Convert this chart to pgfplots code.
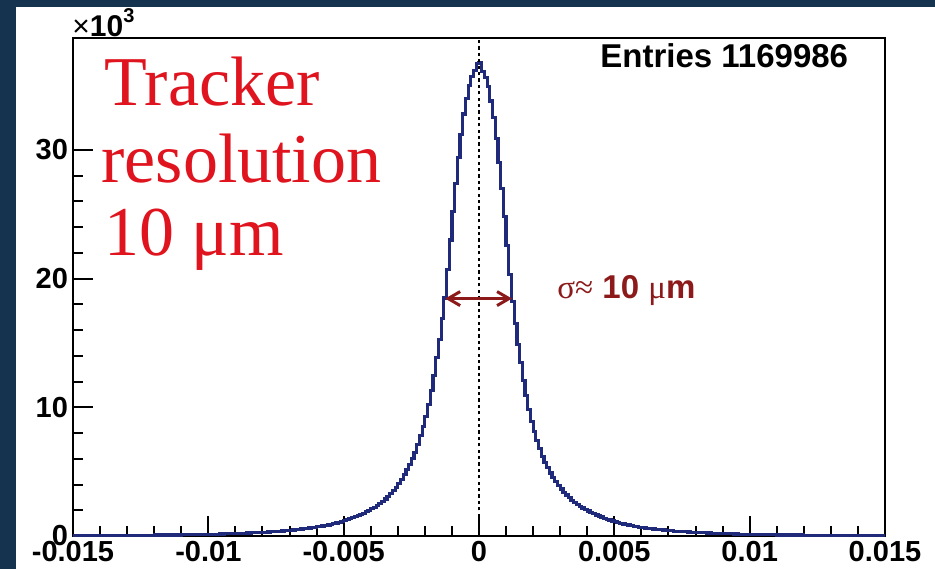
\documentclass[border=0pt]{standalone}
\usepackage{fontspec}
\setmainfont{Liberation Sans}
\newfontfamily\serifface{Liberation Serif}
\usepackage{pgfplots}
\pgfplotsset{compat=1.18}
\usetikzlibrary{arrows.meta}
\definecolor{PageNavy}{HTML}{15324F}
\definecolor{HistNavy}{HTML}{1F2A7A}
\definecolor{NoteRed}{HTML}{E0141E}
\definecolor{SigmaRed}{HTML}{8C1A1A}
\newcommand{\tickfont}{\bfseries\fontsize{14.5}{14.5}\selectfont}

\begin{document}
\begin{tikzpicture}
\fill[PageNavy] (0,0) rectangle (467.5pt,284.5pt);
\fill[white] (8pt,0) rectangle (467.5pt,281pt);
\begin{axis}[
 at={(36.5pt,16.5pt)},anchor=south west,
 scale only axis,width=406pt,height=249pt,
 xmin=-0.015,xmax=0.015,ymin=0,ymax=38.7,
 xtick={-0.015,-0.01,-0.005,0,0.005,0.01,0.015},
 xticklabels={-0.015,-0.01,-0.005,0,0.005,0.01,0.015},
 ytick={0,10,20,30},yticklabels={0,10,20,30},
 minor x tick num=4,minor y tick num=4,
 tick align=inside,xtick pos=bottom,ytick pos=left,
 major tick length=10pt,minor tick length=5pt,
 tick style={black,line width=1pt},
 axis line style={black,line width=1pt},
 ticklabel style={font=\tickfont},
 xticklabel style={yshift=1pt},
 yticklabel style={xshift=1pt},
 scaled ticks=false,clip=false,
]
\addplot[const plot,HistNavy,line width=1.6pt] coordinates {
(-0.0150,0.038)(-0.0145,0.042)(-0.0140,0.047)(-0.0135,0.052)(-0.0130,0.058)
(-0.0125,0.065)(-0.0120,0.075)(-0.0115,0.085)(-0.0110,0.100)(-0.0105,0.115)
(-0.0100,0.130)(-0.0099,0.135)(-0.0098,0.140)(-0.0097,0.145)(-0.0096,0.150)
(-0.0095,0.160)(-0.0094,0.165)(-0.0093,0.170)(-0.0092,0.180)(-0.0091,0.185)
(-0.0090,0.19)(-0.0089,0.20)(-0.0088,0.21)(-0.0087,0.22)(-0.0086,0.23)
(-0.0085,0.24)(-0.0084,0.25)(-0.0083,0.26)(-0.0082,0.27)(-0.0081,0.28)
(-0.0080,0.29)(-0.0079,0.30)(-0.0078,0.31)(-0.0077,0.33)(-0.0076,0.34)
(-0.0075,0.36)(-0.0074,0.37)(-0.0073,0.39)(-0.0072,0.41)(-0.0071,0.43)
(-0.0070,0.45)(-0.0069,0.47)(-0.0068,0.49)(-0.0067,0.51)(-0.0066,0.54)
(-0.0065,0.56)(-0.0064,0.59)(-0.0063,0.62)(-0.0062,0.65)(-0.0061,0.68)
(-0.0060,0.71)(-0.0059,0.74)(-0.0058,0.78)(-0.0057,0.82)(-0.0056,0.86)
(-0.0055,0.91)(-0.0054,0.96)(-0.0053,1.01)(-0.0052,1.07)(-0.0051,1.13)
(-0.0050,1.19)(-0.0049,1.26)(-0.0048,1.33)(-0.0047,1.41)(-0.0046,1.49)
(-0.0045,1.58)(-0.0044,1.67)(-0.0043,1.77)(-0.0042,1.88)(-0.0041,1.99)
(-0.0040,2.11)(-0.0039,2.24)(-0.0038,2.38)(-0.0037,2.53)(-0.0036,2.70)
(-0.0035,2.88)(-0.0034,3.08)(-0.0033,3.30)(-0.0032,3.55)(-0.0031,3.80)
(-0.0030,4.10)(-0.0029,4.40)(-0.0028,4.75)(-0.0027,5.15)(-0.0026,5.55)
(-0.0025,6.00)(-0.0024,6.50)(-0.0023,7.10)(-0.0022,7.80)(-0.0021,8.50)
(-0.0020,9.30)(-0.0019,10.2)(-0.0018,11.3)(-0.0017,12.5)(-0.0016,13.9)
(-0.0015,15.3)(-0.0014,16.9)(-0.0013,18.5)(-0.0012,20.7)(-0.0011,23.0)
(-0.0010,25.2)(-0.0009,27.4)(-0.0008,29.4)(-0.0007,31.2)(-0.0006,32.8)
(-0.0005,34.0)(-0.0004,35.0)(-0.0003,35.7)(-0.0002,36.2)(-0.0001,36.7)
(0.0000,36.8)(0.0001,36.1)(0.0002,35.6)(0.0003,34.9)(0.0004,33.8)
(0.0005,32.5)(0.0006,30.9)(0.0007,29.0)(0.0008,27.0)(0.0009,24.8)
(0.0010,22.6)(0.0011,20.3)(0.0012,18.2)(0.0013,16.5)(0.0014,14.9)
(0.0015,13.5)(0.0016,12.1)(0.0017,10.9)(0.0018,9.8)(0.0019,8.9)
(0.0020,8.1)(0.0021,7.4)(0.0022,6.8)(0.0023,6.2)(0.0024,5.7)
(0.0025,5.3)(0.0026,4.9)(0.0027,4.55)(0.0028,4.22)(0.0029,3.92)
(0.0030,3.65)(0.0031,3.40)(0.0032,3.18)(0.0033,2.97)(0.0034,2.78)
(0.0035,2.61)(0.0036,2.45)(0.0037,2.31)(0.0038,2.18)(0.0039,2.06)
(0.0040,1.95)(0.0041,1.84)(0.0042,1.74)(0.0043,1.64)(0.0044,1.55)
(0.0045,1.47)(0.0046,1.39)(0.0047,1.31)(0.0048,1.24)(0.0049,1.17)
(0.0050,1.11)(0.0051,1.05)(0.0052,0.99)(0.0053,0.94)(0.0054,0.89)
(0.0055,0.85)(0.0056,0.80)(0.0057,0.76)(0.0058,0.73)(0.0059,0.69)
(0.0060,0.66)(0.0061,0.63)(0.0062,0.60)(0.0063,0.57)(0.0064,0.55)
(0.0065,0.52)(0.0066,0.50)(0.0067,0.48)(0.0068,0.46)(0.0069,0.44)
(0.0070,0.42)(0.0071,0.40)(0.0072,0.38)(0.0073,0.37)(0.0074,0.35)
(0.0075,0.34)(0.0076,0.32)(0.0077,0.31)(0.0078,0.30)(0.0079,0.29)
(0.0080,0.28)(0.0081,0.27)(0.0082,0.26)(0.0083,0.25)(0.0084,0.24)
(0.0085,0.23)(0.0086,0.22)(0.0087,0.21)(0.0088,0.20)(0.0089,0.19)
(0.0090,0.185)(0.0091,0.18)(0.0092,0.17)(0.0093,0.165)(0.0094,0.16)
(0.0095,0.15)(0.0096,0.145)(0.0097,0.14)(0.0098,0.135)(0.0099,0.13)
(0.0100,0.115)(0.0105,0.100)(0.0110,0.085)(0.0115,0.075)(0.0120,0.065)
(0.0125,0.058)(0.0130,0.052)(0.0135,0.047)(0.0140,0.042)(0.0145,0.038)
(0.0150,0.038)
};
\addplot[black,line width=0.6pt,dash pattern=on 1.6pt off 1.6pt] coordinates {(0,0) (0,38.7)};
\draw[SigmaRed,line width=1.5pt,{Straight Barb[length=6pt,width=7pt]}-{Straight Barb[length=6pt,width=7pt]}]
 (axis cs:-0.00125,18.45) -- (axis cs:0.00122,18.45);
\end{axis}
% annotations, placed in page coordinates (1pt = 2px of the reference)
\node[anchor=base west,inner sep=0pt] at (36pt,266pt)
 {{\fontsize{15}{15}\selectfont\texttimes}{\bfseries\fontsize{15}{15}\selectfont 10}\raisebox{7pt}{\bfseries\fontsize{10}{10}\selectfont 3}};
\begin{scope}[NoteRed]
\node[anchor=base west,inner sep=0pt] at (52pt,232pt) {\serifface\fontsize{35}{35}\selectfont Tracker};
\node[anchor=base west,inner sep=0pt] at (50.5pt,193.5pt) {\serifface\fontsize{35}{35}\selectfont resolution};
\node[anchor=base west,inner sep=0pt] at (52pt,157pt) {\serifface\fontsize{35}{35}\selectfont 10 μm};
\end{scope}
\node[anchor=base west,inner sep=0pt] at (300pt,251pt) {\bfseries\fontsize{16.5}{16.5}\selectfont Entries 1169986};
\node[anchor=base west,inner sep=0pt,SigmaRed] at (278.5pt,135.5pt)
 {\fontsize{16.5}{16.5}\selectfont{\serifface σ≈} {\bfseries 10} {\serifface μ}{\bfseries m}};
\pgfresetboundingbox
\useasboundingbox (0,0) rectangle (467.5pt,284.5pt);
\end{tikzpicture}
\end{document}
